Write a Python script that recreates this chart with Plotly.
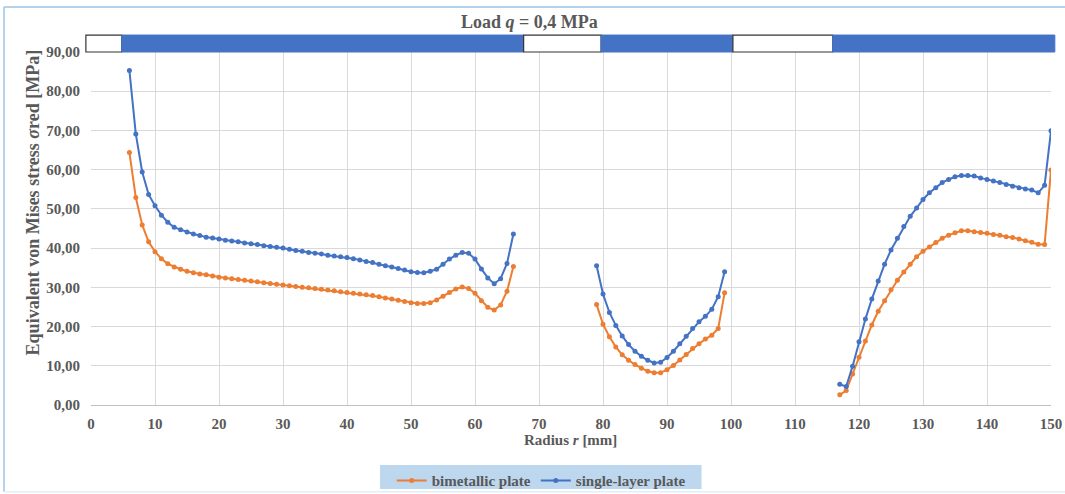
import plotly.graph_objects as go

# ---------------- data ----------------
r_seg1 = list(range(6, 67))
r_seg2 = list(range(79, 100))
r_seg3 = list(range(117, 151))

bimetal_seg1 = [64.4, 52.9, 45.9, 41.6, 39.1, 37.3, 36.0, 35.2, 34.6, 34.1,
                33.7, 33.4, 33.2, 32.9, 32.6, 32.4, 32.2, 32.0, 31.8, 31.6,
                31.4, 31.2, 31.0, 30.8, 30.6, 30.4, 30.2, 30.0, 29.9, 29.7,
                29.5, 29.3, 29.1, 28.9, 28.7, 28.5, 28.3, 28.1, 27.9, 27.6,
                27.3, 27.0, 26.7, 26.4, 26.1, 25.9, 25.9, 26.1, 26.8, 27.7,
                28.7, 29.6, 30.1, 29.7, 28.5, 26.6, 24.9, 24.2, 25.5, 29.0,
                35.3]
single_seg1 = [85.3, 69.1, 59.4, 53.7, 50.8, 48.4, 46.6, 45.3, 44.7, 44.1,
               43.6, 43.2, 42.8, 42.6, 42.3, 42.0, 41.8, 41.6, 41.3, 41.1,
               40.9, 40.6, 40.4, 40.2, 40.0, 39.7, 39.4, 39.2, 38.9, 38.7,
               38.5, 38.2, 38.0, 37.8, 37.6, 37.3, 37.0, 36.6, 36.3, 35.9,
               35.5, 35.2, 34.8, 34.4, 34.0, 33.8, 33.7, 34.1, 34.6, 35.9,
               37.2, 38.2, 38.9, 38.7, 37.2, 34.7, 32.4, 30.9, 32.2, 36.1,
               43.6]

bimetal_seg2 = [25.6, 20.6, 17.4, 14.8, 12.8, 11.4, 10.3, 9.4, 8.6, 8.2,
                8.2, 9.0, 10.1, 11.5, 12.9, 14.4, 15.6, 16.8, 17.8, 19.5,
                28.6]
single_seg2 = [35.5, 28.3, 23.6, 20.3, 17.6, 15.4, 13.7, 12.4, 11.4, 10.7,
               10.9, 12.1, 13.7, 15.6, 17.5, 19.5, 21.2, 22.6, 24.4, 27.6,
               34.0]

bimetal_seg3 = [2.6, 3.7, 7.9, 12.2, 16.3, 20.4, 23.9, 26.6, 29.4, 31.8,
                33.9, 35.9, 37.8, 39.2, 40.3, 41.4, 42.5, 43.3, 43.9, 44.4,
                44.4, 44.2, 44.0, 43.8, 43.5, 43.3, 42.9, 42.7, 42.3, 41.9,
                41.5, 41.0, 40.9, 59.9]
single_seg3 = [5.3, 4.7, 9.9, 16.1, 21.9, 27.0, 31.6, 35.9, 39.5, 42.5,
               45.5, 48.1, 50.2, 52.4, 54.1, 55.4, 56.7, 57.5, 58.2, 58.5,
               58.5, 58.4, 57.9, 57.5, 57.1, 56.7, 56.2, 55.8, 55.4, 55.1,
               54.8, 54.1, 56.0, 69.9]

y_ticks = [0, 10, 20, 30, 40, 50, 60, 70, 80, 90]
y_tick_labels = ["0,00", "10,00", "20,00", "30,00", "40,00", "50,00",
                 "60,00", "70,00", "80,00", "90,00"]
x_ticks = list(range(0, 151, 10))
X_MAX = 150

# strip above the plot: (start mm, end mm, filled)
strip_start = [-0.8, 4.8, 67.6, 79.7, 100.3, 115.9]
strip_end = [4.8, 67.6, 79.7, 100.3, 115.9, 150.6]
strip_filled = [False, True, False, True, False, True]

# ---------------- build ----------------
def join(*segs):
    out = []
    for i, s in enumerate(segs):
        if i:
            out.append(None)
        out.extend(s)
    return out

r_all = join(r_seg1, r_seg2, r_seg3)
bimetal = join(bimetal_seg1, bimetal_seg2, bimetal_seg3)
single = join(single_seg1, single_seg2, single_seg3)

BLUE = "#4472C4"
ORANGE = "#ED7D31"
GRAY = "#595959"
SERIF = "Liberation Serif"

fig = go.Figure()
fig.add_trace(go.Scatter(x=r_all, y=bimetal, mode="lines+markers",
                         name="bimetallic plate", connectgaps=False,
                         line=dict(color=ORANGE, width=2),
                         marker=dict(color=ORANGE, size=5)))
fig.add_trace(go.Scatter(x=r_all, y=single, mode="lines+markers",
                         name="single-layer plate", connectgaps=False,
                         line=dict(color=BLUE, width=2),
                         marker=dict(color=BLUE, size=5)))

shapes = []
for s, e, f in zip(strip_start, strip_end, strip_filled):
    shapes.append(dict(type="rect", xref="paper", yref="paper",
                       x0=s / X_MAX, x1=e / X_MAX, y0=1.0, y1=1.048,
                       fillcolor=BLUE if f else "white",
                       line=dict(color=BLUE if f else "#333333", width=1 if f else 1.2),
                       layer="above"))
# outer light-blue frame of the chart (top, left, faint bottom)
FL, FT, FB, FR = -0.0906, 1.1275, -0.246, 1.02
shapes.append(dict(type="line", xref="paper", yref="paper", x0=FL, x1=FR, y0=FT, y1=FT,
                   line=dict(color="#9DC3E6", width=1.5), layer="below"))
shapes.append(dict(type="line", xref="paper", yref="paper", x0=FL, x1=FL, y0=FB, y1=FT,
                   line=dict(color="#9DC3E6", width=1.5), layer="below"))
shapes.append(dict(type="line", xref="paper", yref="paper", x0=FL, x1=FR, y0=FB, y1=FB,
                   line=dict(color="#E3EEF8", width=1.5), layer="below"))
# legend background box
shapes.append(dict(type="rect", xref="paper", yref="paper",
                   x0=0.301, x1=0.636, y0=-0.238, y1=-0.170,
                   line=dict(width=0), fillcolor="#BDD7EE", layer="below"))

title_font = dict(family=SERIF, size=15, color=GRAY, weight="bold")

fig.update_layout(
    width=1065, height=494,
    margin=dict(l=91, r=14, t=52, b=89, autoexpand=False),
    paper_bgcolor="white", plot_bgcolor="white",
    shapes=shapes,
    showlegend=True,
    legend=dict(orientation="h", x=0.469, xanchor="center", y=-0.168, yanchor="top",
                bgcolor="rgba(0,0,0,0)", font=dict(family=SERIF, size=15, color=GRAY, weight="bold"),
                itemwidth=30, tracegroupgap=0),
    annotations=[
        dict(text="Load <i>q</i> = 0,4 MPa", xref="paper", yref="paper",
             x=0.457, y=1.085, xanchor="center", yanchor="middle", showarrow=False,
             font=dict(family=SERIF, size=18, color=GRAY, weight="bold")),
        dict(text="Radius <i>r</i> [mm]", xref="paper", yref="paper",
             x=0.499, y=-0.099, xanchor="center", yanchor="middle", showarrow=False,
             font=title_font),
        dict(text="Equivalent von Mises stress <i>σ</i>red [MPa]", xref="paper", yref="paper",
             x=-0.0604, y=0.574, xanchor="center", yanchor="middle", showarrow=False,
             textangle=-90, font=dict(family=SERIF, size=18, color=GRAY, weight="bold")),
    ],
    xaxis=dict(range=[0, X_MAX], tickvals=x_ticks, ticktext=[str(v) for v in x_ticks],
               showgrid=True, gridcolor="#D9D9D9", gridwidth=1, automargin=False,
               zeroline=False, showline=True, linecolor="#BFBFBF", ticks="",
               ticklabelstandoff=5,
               tickfont=dict(family=SERIF, size=15, color=GRAY, weight="bold")),
    yaxis=dict(range=[0, 90], tickvals=y_ticks, ticktext=y_tick_labels,
               showgrid=True, gridcolor="#D9D9D9", gridwidth=1, automargin=False,
               zeroline=False, showline=False, ticks="",
               ticklabelstandoff=10,
               tickfont=dict(family=SERIF, size=15, color=GRAY, weight="bold")),
)

fig.write_html("out.html", config={"displayModeBar": False},
               post_script="document.body.style.margin='0';document.body.style.overflow='hidden';")
